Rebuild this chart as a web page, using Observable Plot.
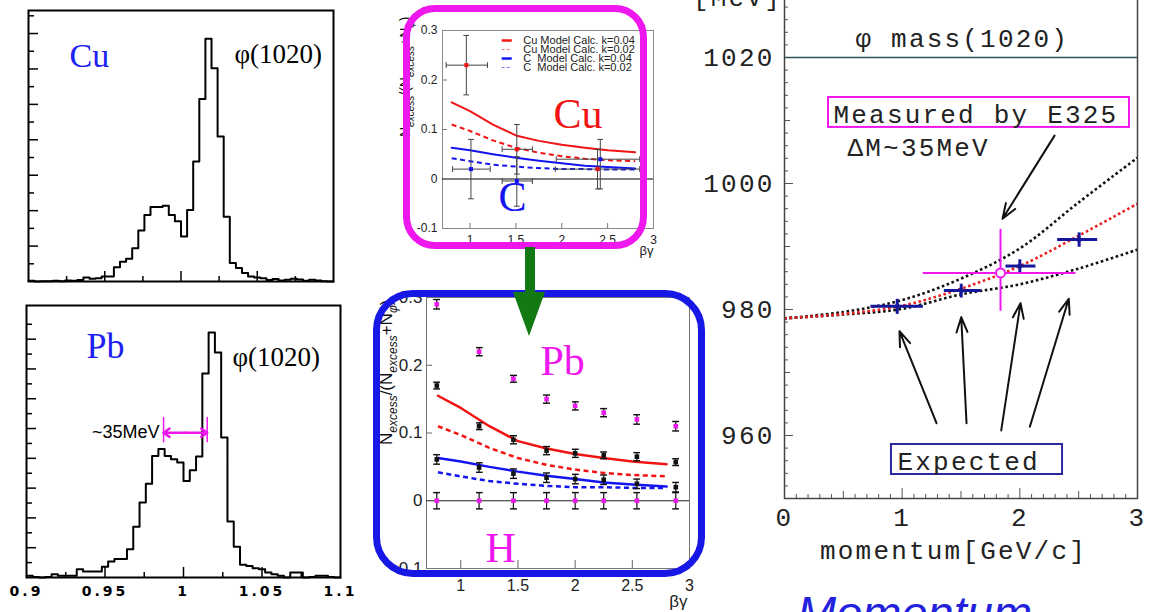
<!DOCTYPE html>
<html><head><meta charset="utf-8">
<script src="https://cdn.jsdelivr.net/npm/d3@7"></script>
<script src="https://cdn.jsdelivr.net/npm/@observablehq/plot@0.6"></script>
<style>
html,body{margin:0;padding:0;background:#fff;}
#stage{position:relative;width:1151px;height:612px;overflow:hidden;background:#fff;}
.panel{position:absolute;}
.panel svg{max-width:none !important;}
.deco{position:absolute;box-sizing:border-box;}
</style></head><body><div id="stage"></div>
<script>
// ================= DATA =================
// --- invariant-mass histograms (e+e- mass, GeV/c^2), bin width 4 MeV from 0.9 ---
const massBinStart = 0.9;
const massBinWidth = 0.004;
const cuCounts = [2,0,1,1,2,1,3,2,4,11,8,9,14,14,40,56,64,94,144,188,210,210,214,188,170,127,202,339,515,685,602,409,183,52,38,24,14,11,9,4,7,3,5,8,6,2,5,3,1,0];
const pbCounts = [6,2,0,2,11,6,6,6,28,20,20,20,36,54,62,62,95,170,252,315,408,431,408,397,386,324,360,406,685,822,755,470,188,103,43,39,31,28,17,11,6,0,17,17,0,2,6,6,2,0];
const histXTickValues = [0.9, 0.95, 1, 1.05, 1.1];
const histXTickLabels = ["0.9", "0.95", "1", "1.05", "1.1"];
const pbShift = {low: 0.9873, high: 1.0151, level: 486, barLow: 452, barHigh: 537};

// --- excess ratio vs beta*gamma ---
const modelBetaGamma = [0.8, 1.0, 1.25, 1.5, 1.75, 2.0, 2.25, 2.5, 2.8];
const cuModelK04 = [0.155, 0.137, 0.110, 0.088, 0.077, 0.069, 0.063, 0.058, 0.054];
const cuModelK02 = [0.110, 0.097, 0.078, 0.063, 0.053, 0.046, 0.041, 0.038, 0.036];
const cModelK04  = [0.063, 0.058, 0.050, 0.043, 0.037, 0.032, 0.027, 0.024, 0.021];
const cModelK02  = [0.042, 0.036, 0.029, 0.025, 0.022, 0.020, 0.020, 0.019, 0.019];

const cuBetaGamma = [0.96, 1.51, 2.39];
const cuBgLow     = [0.74, 1.35, 1.93];
const cuBgHigh    = [1.19, 1.68, 2.85];
const cuRatio     = [0.23, 0.06, 0.02];
const cuRatioLow  = [0.17, 0.01, -0.02];
const cuRatioHigh = [0.29, 0.11, 0.06];

const cBetaGamma  = [1.01, 1.51, 2.42];
const cBgLow      = [0.81, 1.35, 1.94];
const cBgHigh     = [1.22, 1.68, 2.85];
const cRatio      = [0.02, -0.004, 0.04];
const cRatioLow   = [-0.04, -0.055, -0.02];
const cRatioHigh  = [0.08, 0.045, 0.08];

const legendLabels = ["Cu Model Calc. k=0.04", "Cu Model Calc. k=0.02", "C\u00A0\u00A0Model Calc. k=0.04", "C\u00A0\u00A0Model Calc. k=0.02"];

const pbBetaGamma   = [0.79, 1.16, 1.46, 1.75, 2.0, 2.25, 2.54, 2.88];
const pbRatio       = [0.29, 0.22, 0.18, 0.15, 0.14, 0.13, 0.12, 0.11];
const pbRatioErr    = [0.007, 0.006, 0.005, 0.006, 0.006, 0.006, 0.007, 0.007];
const upperRatio    = [0.17, 0.11, 0.09, 0.074, 0.07, 0.067, 0.065, 0.057];
const upperRatioErr = [0.005, 0.005, 0.006, 0.006, 0.006, 0.005, 0.006, 0.005];
const lowerRatio    = [0.061, 0.049, 0.04, 0.034, 0.032, 0.031, 0.025, 0.02];
const lowerRatioErr = [0.007, 0.007, 0.007, 0.007, 0.007, 0.007, 0.007, 0.007];
const hRatio        = [0, 0, 0, 0, 0, 0, 0, 0];
const hRatioErr     = [0.012, 0.012, 0.012, 0.012, 0.012, 0.012, 0.012, 0.012];

const ratioXTicks = [1, 1.5, 2, 2.5, 3];
const ratioXLabels = ["1", "1.5", "2", "2.5", "3"];
const ratioYTicks = [-0.1, 0, 0.1, 0.2, 0.3];
const ratioYLabels = ["-0.1", "0", "0.1", "0.2", "0.3"];

// --- phi mass vs momentum ---
const momentumGrid = [0, 0.5, 1, 1.5, 2, 2.5, 3];
const massUpper = [978.6, 979.6, 981.5, 984.9, 989.7, 997.0, 1004.1];
const massMid   = [978.6, 979.3, 980.6, 983.3, 986.9, 991.7, 996.8];
const massLower = [978.6, 979.2, 980.1, 982.4, 984.0, 986.5, 989.5];
const e325Momentum = [0.958, 1.502, 2.0, 2.504];
const e325MomLow   = [0.731, 1.354, 1.878, 2.317];
const e325MomHigh  = [1.176, 1.666, 2.133, 2.657];
const e325Mass     = [980.5, 983.0, 986.9, 991.1];
const e325MassErr  = [1.2, 1.1, 1.07, 1.14];
const measured = [{p: 1.836, pLow: 1.175, pHigh: 2.473, m: 985.8, mLow: 979.8, mHigh: 992.8}];
const phiMass = [1020];
const massYTicks = [960, 980, 1000, 1020];
const momXTicks = [0, 1, 2, 3];

// ================= HELPERS =================
const SANS = "Liberation Sans, Arial, sans-serif";
const SERIF = "Liberation Serif, Times New Roman, serif";
const MONO = "Liberation Mono, Courier New, monospace";
const RED = "#f01414", BLUE = "#1414f0", MAG = "#ee18ee", NAVY = "#16169a";
const stage = document.getElementById("stage");
function place(node, left, top) {
  const div = document.createElement("div");
  div.className = "panel";
  div.style.left = left + "px"; div.style.top = top + "px";
  div.style.width = node.getAttribute("width") + "px";
  div.appendChild(node); stage.appendChild(div);
  return node;
}
function histSteps(counts) {
  const pts = counts.map((c, i) => ({m: massBinStart + i * massBinWidth, c}));
  pts.push({m: massBinStart + counts.length * massBinWidth, c: counts[counts.length - 1]});
  return pts;
}
function ratioLabel(svg, x, y, size) {
  const sub = Math.round(size * 0.72);
  const t = d3.select(svg).append("text")
    .attr("transform", `translate(${x},${y}) rotate(-90)`)
    .attr("text-anchor", "start")
    .attr("font-family", SANS).attr("font-size", size).attr("fill", "#111");
  const parts = [["N",0],["excess",1],["/(N",0],["excess",1],["+N",0],["φ",1],[")",0]];
  let shifted = false;
  for (const [s, isSub] of parts) {
    const ts = t.append("tspan").text(s);
    if (isSub) { ts.attr("font-size", sub).attr("font-style", "italic"); if (!shifted) { ts.attr("dy", size * 0.3); shifted = true; } }
    else if (shifted) { ts.attr("dy", -size * 0.3); shifted = false; }
  }
}
const baseStyle = {overflow: "visible", background: "transparent"};
const MID = {lineAnchor: "middle"};

// ================= PANEL: Cu histogram =================
{
  const W = 345, H = 295, mL = 28, mT = 10, mR = 12, mB = 14;
  const fw = W - mL - mR, fh = H - mT - mB;
  const svg = Plot.plot({
    width: W, height: H, marginLeft: mL, marginTop: mT, marginRight: mR, marginBottom: mB,
    style: baseStyle,
    x: {domain: [0.9, 1.1], axis: null},
    y: {domain: [0, 765], axis: null},
    marks: [
      Plot.tickY(d3.range(50, 800, 100), {y: d => d, insetRight: fw - 6, stroke: "#000", strokeWidth: 1.5}),
      Plot.tickY(d3.range(100, 800, 100), {y: d => d, insetRight: fw - 10, stroke: "#000", strokeWidth: 1.5}),
      Plot.tickX([0.925, 0.975, 1.025, 1.075], {x: d => d, insetTop: fh - 5, stroke: "#000", strokeWidth: 1.5}),
      Plot.tickX([0.95, 1, 1.05], {x: d => d, insetTop: fh - 10, stroke: "#000", strokeWidth: 1.5}),
      Plot.line(histSteps(cuCounts), {x: "m", y: "c", curve: "step-after", stroke: "#000", strokeWidth: 2}),
      Plot.frame({stroke: "#000", strokeWidth: 2}),
      Plot.text(["Cu"], {text: d => d, frameAnchor: "top-left", dx: 41, dy: 46, textAnchor: "start", ...MID, fontFamily: SERIF, fontSize: 34, fill: "#2020f0"}),
      Plot.text(["φ(1020)"], {text: d => d, frameAnchor: "top-left", dx: 206, dy: 44, textAnchor: "start", ...MID, fontFamily: SERIF, fontSize: 27, fill: "#000"})
    ]
  });
  place(svg, 0, 0);
}

// ================= PANEL: Pb histogram =================
{
  const W = 350, H = 317, mL = 26, mT = 10, mR = 10, mB = 35;
  const fw = W - mL - mR, fh = H - mT - mB;
  const svg = Plot.plot({
    width: W, height: H, marginLeft: mL, marginTop: mT, marginRight: mR, marginBottom: mB,
    style: baseStyle,
    x: {domain: [0.9, 1.1], axis: null},
    y: {domain: [0, 913], axis: null},
    marks: [
      Plot.tickY(d3.range(50, 900, 100), {y: d => d, insetRight: fw - 6, stroke: "#000", strokeWidth: 1.5}),
      Plot.tickY(d3.range(100, 900, 100), {y: d => d, insetRight: fw - 10, stroke: "#000", strokeWidth: 1.5}),
      Plot.tickX([0.925, 0.975, 1.025, 1.075], {x: d => d, insetTop: fh - 5, stroke: "#000", strokeWidth: 1.5}),
      Plot.tickX([0.95, 1, 1.05], {x: d => d, insetTop: fh - 10, stroke: "#000", strokeWidth: 1.5}),
      Plot.line(histSteps(pbCounts), {x: "m", y: "c", curve: "step-after", stroke: "#000", strokeWidth: 2}),
      Plot.frame({stroke: "#000", strokeWidth: 2}),
      Plot.text(histXTickValues, {x: d => d, text: (d, i) => histXTickLabels[i], frameAnchor: "bottom", dy: 14, ...MID, fontFamily: "DejaVu Sans, sans-serif", fontWeight: "bold", fontSize: 14, fill: "#000"}),
      Plot.ruleX([pbShift.low, pbShift.high], {y1: pbShift.barLow, y2: pbShift.barHigh, stroke: MAG, strokeWidth: 1.5}),
      Plot.arrow([pbShift.low, pbShift.high], {x1: (pbShift.low + pbShift.high) / 2, x2: d => d, y1: pbShift.level, y2: pbShift.level, stroke: MAG, strokeWidth: 2.5, headLength: 7, headAngle: 70}),
      Plot.text([pbShift], {x: "low", y: "level", dx: -4, textAnchor: "end", text: () => "~35MeV", fontFamily: SANS, fontSize: 18, fill: "#000"}),
      Plot.text(["Pb"], {text: d => d, frameAnchor: "top-left", dx: 60, dy: 41, textAnchor: "start", ...MID, fontFamily: SERIF, fontSize: 36, fill: "#2020f0"}),
      Plot.text(["φ(1020)"], {text: d => d, frameAnchor: "top-left", dx: 206, dy: 52, textAnchor: "start", ...MID, fontFamily: SERIF, fontSize: 27, fill: "#000"})
    ]
  });
  d3.select(svg).selectAll("text").filter(function() { return histXTickLabels.includes(this.textContent); }).attr("letter-spacing", 3);
  place(svg, 0, 295);
}

// shared model curve marks
function modelMarks(w) {
  return [
    Plot.line(modelBetaGamma, {x: d => d, y: (d, i) => cuModelK04[i], stroke: RED, strokeWidth: 2 * w}),
    Plot.line(modelBetaGamma, {x: d => d, y: (d, i) => cuModelK02[i], stroke: RED, strokeWidth: 2 * w, strokeDasharray: "5,3.5", strokeLinecap: "butt"}),
    Plot.line(modelBetaGamma, {x: d => d, y: (d, i) => cModelK04[i], stroke: BLUE, strokeWidth: 2 * w}),
    Plot.line(modelBetaGamma, {x: d => d, y: (d, i) => cModelK02[i], stroke: BLUE, strokeWidth: 2 * w, strokeDasharray: "5,3.5", strokeLinecap: "butt"})
  ];
}

// ================= PANEL: Cu / C ratio (top middle) =================
{
  const W = 270, H = 262, mL = 47, mT = 30, mR = 12, mB = 34;
  const fw = W - mL - mR, fh = H - mT - mB;
  const cuRows = cuBetaGamma.map((x, i) => ({x, x1: cuBgLow[i], x2: cuBgHigh[i], y: cuRatio[i], y1: cuRatioLow[i], y2: cuRatioHigh[i]}));
  const cRows = cBetaGamma.map((x, i) => ({x, x1: cBgLow[i], x2: cBgHigh[i], y: cRatio[i], y1: cRatioLow[i], y2: cRatioHigh[i]}));
  const errMarks = rows => [
    Plot.link(rows, {x1: "x", x2: "x", y1: "y1", y2: "y2", stroke: "#444", strokeWidth: 1, markerStart: "tick", markerEnd: "tick"}),
    Plot.link(rows, {x1: "x1", x2: "x2", y1: "y", y2: "y", stroke: "#444", strokeWidth: 1, markerStart: "tick", markerEnd: "tick"})
  ];
  const legX0 = 1.345, legX1 = 1.455, legTX = 1.58;
  const legY = [0.2798, 0.2616, 0.2434, 0.2253];
  const legStyles = [
    {stroke: RED, strokeWidth: 2.5}, {stroke: "#f77", strokeWidth: 1, strokeDasharray: "3,2", strokeLinecap: "butt"},
    {stroke: BLUE, strokeWidth: 2.5}, {stroke: "#77f", strokeWidth: 1, strokeDasharray: "3,2", strokeLinecap: "butt"}
  ];
  const svg = Plot.plot({
    width: W, height: H, marginLeft: mL, marginTop: mT, marginRight: mR, marginBottom: mB,
    style: baseStyle,
    x: {domain: [0.7, 3], axis: null},
    y: {domain: [-0.1, 0.3], axis: null},
    marks: [
      Plot.frame({stroke: "#8a8a8a"}),
      Plot.ruleY([0], {stroke: "#000", strokeWidth: 1}),
      Plot.tickX(ratioXTicks.slice(0, 4), {x: d => d, insetTop: fh - 5, stroke: "#777"}),
      Plot.tickY([0.1, 0.2], {y: d => d, insetRight: fw - 5, stroke: "#777"}),
      Plot.text(ratioYTicks, {y: d => d, frameAnchor: "left", dx: -5, textAnchor: "end", ...MID, text: (d, i) => ratioYLabels[i], fontSize: 12, fontFamily: SANS, fill: "#222"}),
      Plot.text(ratioXTicks, {x: d => d, frameAnchor: "bottom", dy: 12, ...MID, text: (d, i) => ratioXLabels[i], fontSize: 12, fontFamily: SANS, fill: "#222"}),
      Plot.text(["βγ"], {text: d => d, frameAnchor: "bottom-right", dy: 22, textAnchor: "end", ...MID, fontSize: 13, fontFamily: SANS, fill: "#222"}),
      ...modelMarks(1),
      ...errMarks(cuRows), ...errMarks(cRows),
      Plot.dot(cuRows, {x: "x", y: "y", symbol: "square", r: 2.3, fill: RED}),
      Plot.dot(cRows, {x: "x", y: "y", symbol: "square", r: 2.3, fill: BLUE}),
      ...legendLabels.map((lab, i) => Plot.link([i], {x1: legX0, x2: legX1, y1: legY[i], y2: legY[i], ...legStyles[i]})),
      Plot.text(legendLabels, {x: legTX, y: (d, i) => legY[i], text: d => d, textAnchor: "start", fontFamily: SANS, fontSize: 11, fill: "#222"}),
      Plot.text(["Cu"], {text: d => d, frameAnchor: "top-left", dx: 111, dy: 84, textAnchor: "start", ...MID, fontFamily: SERIF, fontSize: 42, fill: RED}),
      Plot.text(["C"], {text: d => d, frameAnchor: "top-left", dx: 56, dy: 167, textAnchor: "start", ...MID, fontFamily: SERIF, fontSize: 42, fill: BLUE})
    ]
  });
  ratioLabel(svg, 15, 137, 14);
  place(svg, 395, 0);
}

// ================= PANEL: Pb / H ratio (bottom middle) =================
{
  const W = 350, H = 332, mL = 66, mT = 17, mR = 21, mB = 44;
  const fw = W - mL - mR, fh = H - mT - mB;
  const rows = (ys, es) => pbBetaGamma.map((x, i) => ({x, y: ys[i], y1: ys[i] - es[i], y2: ys[i] + es[i]}));
  const pbRows = rows(pbRatio, pbRatioErr), upRows = rows(upperRatio, upperRatioErr);
  const loRows = rows(lowerRatio, lowerRatioErr), hRows = rows(hRatio, hRatioErr);
  const err = r => Plot.link(r, {x1: "x", x2: "x", y1: "y1", y2: "y2", stroke: "#111", strokeWidth: 1.2, markerStart: "tick", markerEnd: "tick"});
  const svg = Plot.plot({
    width: W, height: H, marginLeft: mL, marginTop: mT, marginRight: mR, marginBottom: mB,
    style: baseStyle,
    x: {domain: [0.7, 3], axis: null},
    y: {domain: [-0.1, 0.3], axis: null},
    marks: [
      Plot.frame({stroke: "#777"}),
      Plot.ruleY([0], {stroke: "#222", strokeWidth: 1}),
      Plot.tickX(ratioXTicks.slice(0, 4), {x: d => d, insetTop: fh - 8, stroke: "#666"}),
      Plot.tickY([0.1, 0.2], {y: d => d, insetRight: fw - 6, stroke: "#666"}),
      Plot.text(ratioYTicks, {y: d => d, frameAnchor: "left", dx: -4, textAnchor: "end", ...MID, text: (d, i) => ratioYLabels[i], fontSize: 17, fontFamily: SANS, fill: "#222"}),
      Plot.text(ratioXTicks, {x: d => d, frameAnchor: "bottom", dy: 17, ...MID, text: (d, i) => ratioXLabels[i], fontSize: 16, fontFamily: SANS, fill: "#222"}),
      Plot.text(["βγ"], {text: d => d, frameAnchor: "bottom-right", dy: 33, dx: -2, textAnchor: "end", ...MID, fontSize: 17, fontFamily: SANS, fill: "#222"}),
      ...modelMarks(1.25),
      err(pbRows), err(upRows), err(loRows), err(hRows),
      Plot.dot(pbRows, {x: "x", y: "y", symbol: "square", r: 2.6, fill: MAG}),
      Plot.dot(hRows, {x: "x", y: "y", symbol: "square", r: 2.6, fill: MAG}),
      Plot.dot(upRows, {x: "x", y: "y", symbol: "square", r: 2.6, fill: "#111"}),
      Plot.dot(loRows, {x: "x", y: "y", symbol: "square", r: 2.6, fill: "#111"}),
      Plot.text(["Pb"], {text: d => d, frameAnchor: "top-left", dx: 114, dy: 64, textAnchor: "start", ...MID, fontFamily: SERIF, fontSize: 42, fill: MAG}),
      Plot.text(["H"], {text: d => d, frameAnchor: "top-left", dx: 59, dy: 251, textAnchor: "start", ...MID, fontFamily: SERIF, fontSize: 42, fill: MAG})
    ]
  });
  ratioLabel(svg, 32, 165, 17);
  place(svg, 360, 280);
}

// ================= PANEL: mass vs momentum (right) =================
{
  const W = 461, H = 652, mL = 94, mT = 34, mR = 14, mB = 114;
  const fw = W - mL - mR, fh = H - mT - mB;
  const e325Rows = e325Momentum.map((p, i) => ({p, pLow: e325MomLow[i], pHigh: e325MomHigh[i], m: e325Mass[i], mLow: e325Mass[i] - e325MassErr[i], mHigh: e325Mass[i] + e325MassErr[i]}));
  const measuredBox = [{x1: 0.374, x2: 2.932, y1: 1013.65, y2: 1008.9}];
  const expectedBox = [{x1: 0.909, x2: 2.363, y1: 958.57, y2: 953.81}];
  const measuredArrow = [{x1: 2.295, y1: 1007.6, x2: 1.853, y2: 994.4}];
  const expectedArrows = [
    {x1: 1.292, y1: 961.95, x2: 0.977, y2: 976.56},
    {x1: 1.547, y1: 961.95, x2: 1.502, y2: 978.78},
    {x1: 1.842, y1: 960.8, x2: 2.006, y2: 981.0},
    {x1: 2.085, y1: 961.4, x2: 2.416, y2: 981.7}
  ];
  const minorM = d3.range(952, 1030, 2).filter(d => d % 10 !== 0);
  const minorP = d3.range(1, 30).map(d => d / 10).filter((d, i) => (i + 1) % 5 !== 0);
  const monoText = {fontFamily: MONO, fontSize: 26, fill: "#222", lineAnchor: "middle"};
  const curve = (ys, color) => Plot.line(momentumGrid, {x: d => d, y: (d, i) => ys[i], curve: "catmull-rom", stroke: color, strokeWidth: 2.6, strokeDasharray: "2.6,2.6", strokeLinecap: "butt"});
  const svg = Plot.plot({
    width: W, height: H, marginLeft: mL, marginTop: mT, marginRight: mR, marginBottom: mB,
    style: {...baseStyle, letterSpacing: "2.2px"},
    x: {domain: [0, 3], axis: null},
    y: {domain: [950, 1030], axis: null},
    marks: [
      Plot.tickY(minorM, {y: d => d, insetRight: fw - 4, stroke: "#555"}),
      Plot.tickY([970, 990, 1010], {y: d => d, insetRight: fw - 6, stroke: "#555"}),
      Plot.tickY(massYTicks, {y: d => d, insetRight: fw - 9, stroke: "#555"}),
      Plot.tickX(minorP, {x: d => d, insetTop: fh - 4, stroke: "#555"}),
      Plot.tickX([0.5, 1.5, 2.5], {x: d => d, insetTop: fh - 7, stroke: "#555"}),
      Plot.tickX([1, 2], {x: d => d, insetTop: fh - 10, stroke: "#555"}),
      Plot.ruleY(phiMass, {stroke: "#2f5555", strokeWidth: 1.5}),
      curve(massUpper, "#111"), curve(massLower, "#111"), curve(massMid, "#e82020"),
      Plot.link(e325Rows, {x1: "pLow", x2: "pHigh", y1: "m", y2: "m", stroke: NAVY, strokeWidth: 3}),
      Plot.link(e325Rows, {x1: "p", x2: "p", y1: "mLow", y2: "mHigh", stroke: NAVY, strokeWidth: 3}),
      Plot.dot(e325Rows, {x: "p", y: "m", r: 2.5, fill: NAVY}),
      Plot.link(measured, {x1: "pLow", x2: "pHigh", y1: "m", y2: "m", stroke: MAG, strokeWidth: 2}),
      Plot.link(measured, {x1: "p", x2: "p", y1: "mLow", y2: "mHigh", stroke: MAG, strokeWidth: 2}),
      Plot.dot(measured, {x: "p", y: "m", r: 4.5, stroke: MAG, strokeWidth: 2, fill: "#fff"}),
      Plot.arrow(measuredArrow, {x1: "x1", y1: "y1", x2: "x2", y2: "y2", stroke: "#111", strokeWidth: 2, headLength: 12, headAngle: 40}),
      Plot.arrow(expectedArrows, {x1: "x1", y1: "y1", x2: "x2", y2: "y2", stroke: "#111", strokeWidth: 2, headLength: 12, headAngle: 40}),
      Plot.rect(measuredBox, {x1: "x1", x2: "x2", y1: "y1", y2: "y2", fill: "none", stroke: MAG, strokeWidth: 2}),
      Plot.rect(expectedBox, {x1: "x1", x2: "x2", y1: "y1", y2: "y2", fill: "none", stroke: "#2a2aa0", strokeWidth: 2}),
      Plot.frame({stroke: "#444", strokeWidth: 1.5}),
      Plot.text(massYTicks, {y: d => d, frameAnchor: "left", dx: -10, textAnchor: "end", text: d => String(d), ...monoText}),
      Plot.text(momXTicks, {x: d => d, frameAnchor: "bottom", dy: 19, text: d => String(d), ...monoText}),
      Plot.text(["momentum[GeV/c]"], {text: d => d, frameAnchor: "bottom-left", dx: 169, dy: 51.7, textAnchor: "middle", ...monoText}),
      Plot.text(["[MeV]"], {text: d => d, frameAnchor: "top-left", dx: -47, dy: 3, textAnchor: "middle", ...monoText}),
      Plot.text(["φ mass(1020)"], {text: d => d, frameAnchor: "top-left", dx: 71, dy: 43.7, textAnchor: "start", ...monoText}),
      Plot.text(["Measured by E325"], {text: d => d, frameAnchor: "top-left", dx: 49, dy: 119.7, textAnchor: "start", ...monoText}),
      Plot.text(["ΔM~35MeV"], {text: d => d, frameAnchor: "top-left", dx: 63, dy: 152.7, textAnchor: "start", ...monoText}),
      Plot.text(["Expected"], {text: d => d, frameAnchor: "top-left", dx: 113, dy: 466.7, textAnchor: "start", ...monoText})
    ]
  });
  place(svg, 690, -40);
}

// ================= decorations: highlight boxes, link arrow, caption =================
function deco(css) { const d = document.createElement("div"); d.className = "deco"; Object.assign(d.style, css); stage.appendChild(d); return d; }
deco({left: "403px", top: "5px", width: "244px", height: "244px", border: "7px solid " + MAG, borderRadius: "32px"});
deco({left: "373px", top: "290px", width: "332px", height: "287px", border: "7px solid #1818e6", borderRadius: "40px"});
deco({left: "525px", top: "247px", width: "10px", height: "47px", background: "#137a13"});
deco({left: "513px", top: "292px", width: "0", height: "0", borderLeft: "16px solid transparent", borderRight: "16px solid transparent", borderTop: "44px solid #137a13"});
const cap = deco({left: "797px", top: "589px", font: "italic 47px 'Liberation Sans', Arial, sans-serif", lineHeight: "47px", color: "#2222dd", whiteSpace: "nowrap"});
cap.textContent = "Momentum";
</script></body></html>
